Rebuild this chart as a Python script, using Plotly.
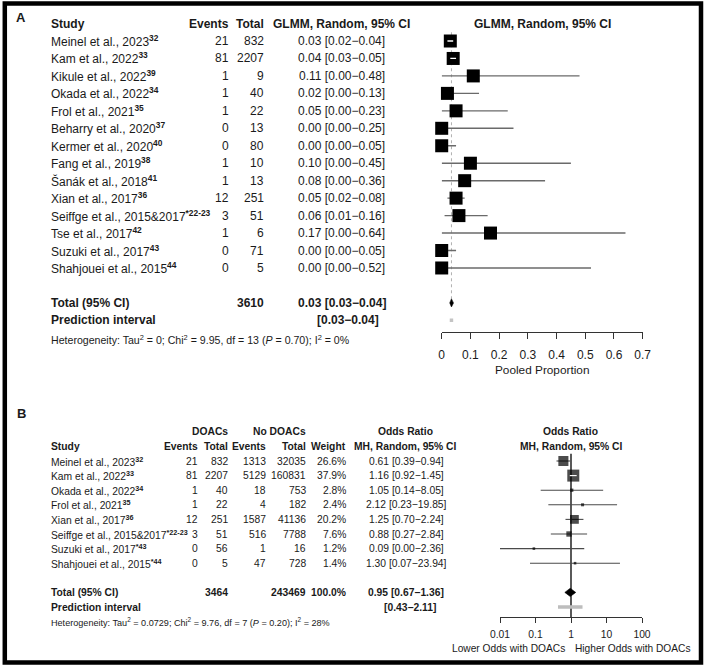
import math
import plotly.graph_objects as go

W, H = 709, 672

# ---------------- Panel A data ----------------
a_study = ["Meinel et al., 2023", "Kam et al., 2022", "Kikule et al., 2022", "Okada et al., 2022",
           "Frol et al., 2021", "Beharry et al., 2020", "Kermer et al., 2020", "Fang et al., 2019",
           "Šanák et al., 2018", "Xian et al., 2017", "Seiffge et al., 2015&2017", "Tse et al., 2017",
           "Suzuki et al., 2017", "Shahjouei et al., 2015"]
a_ref = ["32", "33", "39", "34", "35", "37", "40", "38", "41", "36", "*22-23", "42", "43", "44"]
a_events = [21, 81, 1, 1, 1, 0, 0, 1, 1, 12, 3, 1, 0, 0]
a_total = [832, 2207, 9, 40, 22, 13, 80, 10, 13, 251, 51, 6, 71, 5]
a_est = [0.03, 0.04, 0.11, 0.02, 0.05, 0.00, 0.00, 0.10, 0.08, 0.05, 0.06, 0.17, 0.00, 0.00]
a_lo = [0.02, 0.03, 0.00, 0.00, 0.00, 0.00, 0.00, 0.00, 0.00, 0.02, 0.01, 0.00, 0.00, 0.00]
a_hi = [0.04, 0.05, 0.48, 0.13, 0.23, 0.25, 0.05, 0.45, 0.36, 0.08, 0.16, 0.64, 0.05, 0.52]
a_pool = [0.034, 0.028, 0.041]      # est, lo, hi
a_pred = [0.028, 0.040]             # prediction interval
a_sum_total = 3610
a_ticks = [0, 0.1, 0.2, 0.3, 0.4, 0.5, 0.6, 0.7]
a_ticktext = ["0", "0.1", "0.2", "0.3", "0.4", "0.5", "0.6", "0.7"]
a_het = "Heterogeneity: Tau<sup>2</sup> = 0; Chi<sup>2</sup> = 9.95, df = 13 (<i>P</i> = 0.70); I<sup>2</sup> = 0%"

# ---------------- Panel B data ----------------
b_study = ["Meinel et al., 2023", "Kam et al., 2022", "Okada et al., 2022", "Frol et al., 2021",
           "Xian et al., 2017", "Seiffge et al., 2015&2017", "Suzuki et al., 2017", "Shahjouei et al., 2015"]
b_ref = ["32", "33", "34", "35", "36", "*22-23", "*43", "*44"]
b_ev1 = [21, 81, 1, 1, 12, 3, 0, 0]
b_tot1 = [832, 2207, 40, 22, 251, 51, 56, 5]
b_ev2 = [1313, 5129, 18, 4, 1587, 516, 1, 47]
b_tot2 = [32035, 160831, 753, 182, 41136, 7788, 16, 728]
b_weight = [26.6, 37.9, 2.8, 2.4, 20.2, 7.6, 1.2, 1.4]
b_or = [0.61, 1.16, 1.05, 2.12, 1.25, 0.88, 0.09, 1.30]
b_lo = [0.39, 0.92, 0.14, 0.23, 0.70, 0.27, 0.0035, 0.07]
b_hi = [0.94, 1.45, 8.05, 19.85, 2.24, 2.84, 2.36, 23.94]
b_pool = [0.95, 0.67, 1.36]
b_pred = [0.43, 2.11]
b_sum_tot1 = 3464
b_sum_tot2 = 243469
b_sum_weight = 100.0
b_ticks = [0.01, 0.1, 1, 10, 100]
b_ticktext = ["0.01", "0.1", "1", "10", "100"]
b_het = "Heterogeneity: Tau<sup>2</sup> = 0.0729; Chi<sup>2</sup> = 9.76, df = 7 (<i>P</i> = 0.20); I<sup>2</sup> = 28%"

# ---------------- layout constants ----------------
FONT = "Liberation Sans, Arial, sans-serif"
TXT = "#1a1a1a"
A_FS, B_FS = 12, 10.3

A_ROW0, A_STEP, A_AXIS, A_TOPROW = 41.0, 17.46, 331.7, -2.3
A_X0, A_X1 = 441.7, 642.7
B_ROW0, B_STEP, B_AXIS, B_TOPROW = 461.0, 14.6, 617.0, -3.5
B_X0, B_X1 = 500.0, 642.0


def py(p):
    return 1 - p / H


def px(p):
    return p / W


a_ybot = (A_AXIS - A_ROW0) / A_STEP
b_ybot = (B_AXIS - B_ROW0) / B_STEP
a_rows = list(range(len(a_study)))
b_rows = list(range(len(b_study)))
a_total_row = len(a_study) + 1
b_total_row = len(b_study) + 1


def fmt_ci(e, l, h):
    return f"{e:.2f} [{l:.2f}\u2212{h:.2f}]"


def segs(lo, hi, rows):
    xs, ys = [], []
    for l, h, r in zip(lo, hi, rows):
        xs += [l, h, None]
        ys += [r, r, None]
    return xs, ys


fig = go.Figure()

# ---------- Panel A marks ----------
A_SQ = 13
a_ppu = (A_X1 - A_X0) / (a_ticks[-1] - a_ticks[0])
xs, ys = segs(a_lo, a_hi, a_rows)
fig.add_trace(go.Scatter(x=[a_pool[0], a_pool[0]], y=[-0.5, a_total_row], mode="lines",
                         line=dict(color="#b0b0b0", width=1, dash="dot"), xaxis="x", yaxis="y"))
fig.add_trace(go.Scatter(x=xs, y=ys, mode="lines", line=dict(color="#6a6a6a", width=1.4),
                         xaxis="x", yaxis="y"))
fig.add_trace(go.Scatter(x=a_est, y=a_rows, mode="markers", cliponaxis=False,
                         marker=dict(symbol="square", size=A_SQ, color="black", line=dict(width=0)),
                         xaxis="x", yaxis="y"))
half = A_SQ / 2 / a_ppu
inside = [i for i in a_rows if a_lo[i] >= a_est[i] - half and a_hi[i] <= a_est[i] + half]
xs, ys = segs([a_lo[i] for i in inside], [a_hi[i] for i in inside], inside)
fig.add_trace(go.Scatter(x=xs, y=ys, mode="lines", line=dict(color="white", width=1.3),
                         xaxis="x", yaxis="y"))
hA = 0.23
e, l, h = a_pool
fig.add_trace(go.Scatter(x=[l, e, h, e, l], y=[a_total_row, a_total_row - hA, a_total_row, a_total_row + hA, a_total_row],
                         mode="lines", fill="toself", fillcolor="black", line=dict(color="black", width=0.6),
                         xaxis="x", yaxis="y"))
fig.add_trace(go.Scatter(x=a_pred, y=[a_total_row + 1] * 2, mode="lines",
                         line=dict(color="#c4c4c4", width=3.5), xaxis="x", yaxis="y"))

# ---------- Panel B marks ----------
b_ppd = (B_X1 - B_X0) / (math.log10(b_ticks[-1]) - math.log10(b_ticks[0]))
wmax = max(b_weight)
b_size = [max(2.6, 12 * math.sqrt(w / wmax)) for w in b_weight]
fig.add_trace(go.Scatter(x=[1, 1], y=[-0.5, b_ybot], mode="lines", line=dict(color="black", width=1.3),
                         xaxis="x2", yaxis="y2"))
xs, ys = segs(b_lo, b_hi, b_rows)
fig.add_trace(go.Scatter(x=xs, y=ys, mode="lines", line=dict(color="#4a4a4a", width=1.1),
                         xaxis="x2", yaxis="y2"))
fig.add_trace(go.Scatter(x=b_or, y=b_rows, mode="markers", cliponaxis=False,
                         marker=dict(symbol="square", size=b_size, color="black", line=dict(width=0)),
                         xaxis="x2", yaxis="y2"))
inside = []
for i in b_rows:
    hd = b_size[i] / 2 / b_ppd
    if math.log10(b_lo[i]) >= math.log10(b_or[i]) - hd and math.log10(b_hi[i]) <= math.log10(b_or[i]) + hd:
        inside.append(i)
xs, ys = segs([b_lo[i] for i in inside], [b_hi[i] for i in inside], inside)
fig.add_trace(go.Scatter(x=xs, y=ys, mode="lines", line=dict(color="white", width=1.2),
                         xaxis="x2", yaxis="y2"))
hB = 0.28
e, l, h = b_pool
fig.add_trace(go.Scatter(x=[l, e, h, e, l], y=[b_total_row, b_total_row - hB, b_total_row, b_total_row + hB, b_total_row],
                         mode="lines", fill="toself", fillcolor="black", line=dict(color="black", width=0.6),
                         xaxis="x2", yaxis="y2"))
fig.add_trace(go.Scatter(x=b_pred, y=[b_total_row + 1] * 2, mode="lines",
                         line=dict(color="#bdbdbd", width=3.5), xaxis="x2", yaxis="y2"))

# ---------- text ----------
ann = []


def T(text, x_px, y, yref, anchor="left", size=A_FS, bold=False):
    if bold:
        text = f"<b>{text}</b>"
    yy = py(y) if yref == "paper" else y
    ann.append(dict(text=text, x=px(x_px), xref="paper", y=yy, yref=yref, xanchor=anchor,
                    yanchor="middle", showarrow=False, font=dict(family=FONT, size=size, color=TXT)))


# Panel A
T("A", 21, 17, "paper", "center", 13, True)
T("Study", 49, -1, "y", "left", A_FS, True)
T("Events", 231, -1, "y", "right", A_FS, True)
T("Total", 266, -1, "y", "right", A_FS, True)
T("GLMM, Random, 95% CI", 341, -1, "y", "center", A_FS, True)
T("GLMM, Random, 95% CI", (A_X0 + A_X1) / 2, -1, "y", "center", A_FS, True)
for i in a_rows:
    T(f"{a_study[i]}<sup><b>{a_ref[i]}</b></sup>", 49, i, "y", "left", A_FS)
    T(str(a_events[i]), 231, i, "y", "right", A_FS)
    T(str(a_total[i]), 266, i, "y", "right", A_FS)
    T(fmt_ci(a_est[i], a_lo[i], a_hi[i]), 341.5, i, "y", "center", A_FS)
T("Total (95% CI)", 49, a_total_row, "y", "left", A_FS, True)
T(str(a_sum_total), 266, a_total_row, "y", "right", A_FS, True)
T(fmt_ci(*a_pool), 341.5, a_total_row, "y", "center", A_FS, True)
T("Prediction interval", 49, a_total_row + 1, "y", "left", A_FS, True)
T(f"[{a_pred[0]:.2f}\u2212{a_pred[1]:.2f}]", 348, a_total_row + 1, "y", "center", A_FS, True)
T(a_het, 49, 339, "paper", "left", 10.6)
T("Pooled Proportion", (A_X0 + A_X1) / 2, 370, "paper", "center", 11.8)

# Panel B
T("B", 21, 413, "paper", "center", 13, True)
T("DOACs", 230, -2, "y2", "right", B_FS, True)
T("No DOACs", 308, -2, "y2", "right", B_FS, True)
T("Odds Ratio", 405, -2, "y2", "center", B_FS, True)
T("Odds Ratio", 570, -2, "y2", "center", B_FS, True)
T("Study", 49, -1, "y2", "left", B_FS, True)
T("Events", 200, -1, "y2", "right", B_FS, True)
T("Total", 230, -1, "y2", "right", B_FS, True)
T("Events", 268, -1, "y2", "right", B_FS, True)
T("Total", 308, -1, "y2", "right", B_FS, True)
T("Weight", 348, -1, "y2", "right", B_FS, True)
T("MH, Random, 95% CI", 405, -1, "y2", "center", B_FS, True)
T("MH, Random, 95% CI", 571, -1, "y2", "center", B_FS, True)
for i in b_rows:
    T(f"{b_study[i]}<sup><b>{b_ref[i]}</b></sup>", 49, i, "y2", "left", B_FS)
    T(str(b_ev1[i]), 200, i, "y2", "right", B_FS)
    T(str(b_tot1[i]), 230, i, "y2", "right", B_FS)
    T(str(b_ev2[i]), 268, i, "y2", "right", B_FS)
    T(str(b_tot2[i]), 308, i, "y2", "right", B_FS)
    T(f"{b_weight[i]:.1f}%", 348, i, "y2", "right", B_FS)
    T(fmt_ci(b_or[i], b_lo[i], b_hi[i]), 406, i, "y2", "center", B_FS)
T("Total (95% CI)", 49, b_total_row, "y2", "left", B_FS, True)
T(str(b_sum_tot1), 230, b_total_row, "y2", "right", B_FS, True)
T(str(b_sum_tot2), 308, b_total_row, "y2", "right", B_FS, True)
T(f"{b_sum_weight:.1f}%", 348, b_total_row, "y2", "right", B_FS, True)
T(fmt_ci(*b_pool), 406, b_total_row, "y2", "center", B_FS, True)
T("Prediction interval", 49, b_total_row + 1, "y2", "left", B_FS, True)
T(f"[{b_pred[0]:.2f}\u2212{b_pred[1]:.2f}]", 410, b_total_row + 1, "y2", "center", B_FS, True)
T(b_het, 49, 622, "paper", "left", 9.1)
T("Lower Odds with DOACs", 508, 648, "paper", "center", 10.2)
T("Higher Odds with DOACs", 633, 648, "paper", "center", 10.2)

axis_common = dict(showgrid=False, zeroline=False, showline=True, linecolor="#333", linewidth=1,
                   ticks="outside", tickcolor="#333", tickwidth=1, fixedrange=True, automargin=False)
yhide = dict(showgrid=False, zeroline=False, showline=False, showticklabels=False, ticks="",
             fixedrange=True, automargin=False)

fig.update_layout(
    width=W, height=H, margin=dict(l=0, r=0, t=0, b=0, pad=0, autoexpand=False),
    paper_bgcolor="white", plot_bgcolor="rgba(0,0,0,0)", showlegend=False,
    font=dict(family=FONT, color=TXT),
    xaxis=dict(domain=[px(A_X0), px(A_X1)], range=[a_ticks[0], a_ticks[-1]], anchor="y",
               tickvals=a_ticks, ticktext=a_ticktext, ticklen=6, ticklabelstandoff=6,
               tickfont=dict(size=12, family=FONT, color=TXT), **axis_common),
    yaxis=dict(domain=[py(A_AXIS), py(A_ROW0 + A_TOPROW * A_STEP)], range=[a_ybot, A_TOPROW], **yhide),
    xaxis2=dict(type="log", domain=[px(B_X0), px(B_X1)], anchor="y2",
                range=[math.log10(b_ticks[0]), math.log10(b_ticks[-1])],
                tickvals=b_ticks, ticktext=b_ticktext, ticklen=5, ticklabelstandoff=3,
                tickfont=dict(size=10.3, family=FONT, color=TXT), **axis_common),
    yaxis2=dict(domain=[py(B_AXIS), py(B_ROW0 + B_TOPROW * B_STEP)], range=[b_ybot, B_TOPROW], **yhide),
    annotations=ann,
    shapes=[dict(type="rect", xref="paper", yref="paper", x0=px(4.8), x1=px(701), y0=py(662.5), y1=py(3.5),
                 line=dict(color="black", width=4.5), fillcolor="rgba(0,0,0,0)")],
)

fig.write_html("out.html", config={"responsive": False, "displayModeBar": False},
               post_script="document.body.style.margin='0px';document.body.style.overflow='hidden';")
